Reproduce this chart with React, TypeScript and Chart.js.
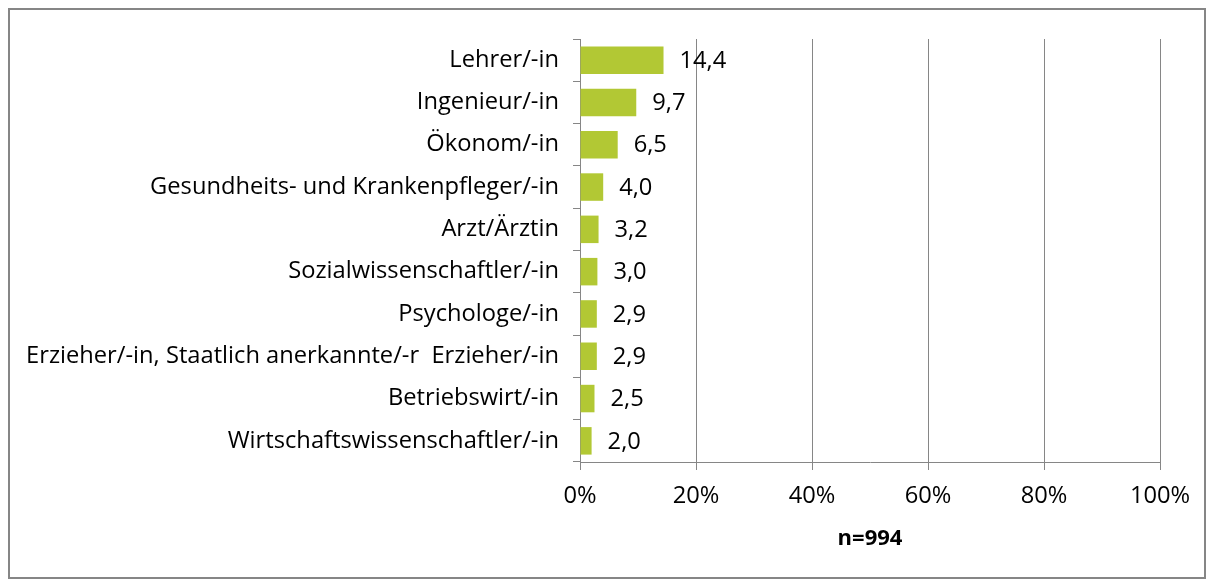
import React, { useEffect, useRef } from "react";
import { Chart, registerables } from "chart.js";

Chart.register(...registerables);

const categories = [
  "Lehrer/-in",
  "Ingenieur/-in",
  "Ökonom/-in",
  "Gesundheits- und Krankenpfleger/-in",
  "Arzt/Ärztin",
  "Sozialwissenschaftler/-in",
  "Psychologe/-in",
  "Erzieher/-in, Staatlich anerkannte/-r  Erzieher/-in",
  "Betriebswirt/-in",
  "Wirtschaftswissenschaftler/-in",
];
const values = [14.4, 9.7, 6.5, 4.0, 3.2, 3.0, 2.9, 2.9, 2.5, 2.0];
const xTicks = [0, 20, 40, 60, 80, 100];
const axisTitle = "n=994";

const FONT = "'Open Sans'";
const FS = 23.7;
const GREY = "#868686";

const labelPlugin = {
  id: "valueLabels",
  afterDatasetsDraw(chart: any) {
    const ctx = chart.ctx;
    const meta = chart.getDatasetMeta(0);
    ctx.save();
    ctx.font = `${FS}px ${FONT}`;
    ctx.fillStyle = "#000";
    ctx.textAlign = "left";
    ctx.textBaseline = "middle";
    meta.data.forEach((bar: any, i: number) => {
      const txt = values[i].toFixed(1).replace(".", ",");
      ctx.fillText(txt, bar.x + 16, bar.y + 1);
    });
    ctx.restore();
  },
};

const borderPlugin = {
  id: "outerBorder",
  afterDraw(chart: any) {
    const ctx = chart.ctx;
    ctx.save();
    ctx.strokeStyle = GREY;
    ctx.lineWidth = 2;
    ctx.strokeRect(1, 1, chart.width - 2, chart.height - 2);
    ctx.restore();
  },
};

export default function App() {
  const ref = useRef<HTMLCanvasElement>(null);
  useEffect(() => {
    if (!ref.current) return;
    const chart = new Chart(ref.current, {
      type: "bar",
      data: {
        labels: categories,
        datasets: [
          {
            data: values,
            backgroundColor: "#b2c834",
            barPercentage: 0.65,
            categoryPercentage: 1,
          },
        ],
      },
      plugins: [labelPlugin, borderPlugin],
      options: {
        indexAxis: "y",
        animation: false,
        responsive: true,
        maintainAspectRatio: false,
        layout: { padding: { top: 31, right: 46, left: 0, bottom: 0 } },
        plugins: { legend: { display: false }, tooltip: { enabled: false } },
        scales: {
          x: {
            min: 0,
            max: 100,
            afterBuildTicks: (axis: any) => {
              axis.ticks = xTicks.map((v) => ({ value: v }));
            },
            afterFit: (axis: any) => {
              axis.height = 117;
            },
            grid: {
              color: GREY,
              lineWidth: 1,
              drawTicks: true,
              tickLength: 8,
              tickColor: GREY,
            },
            border: { color: GREY, width: 1 },
            ticks: {
              color: "#000",
              font: { family: FONT, size: FS },
              padding: 12,
              callback: (v: any) => `${v}%`,
              maxRotation: 0,
            },
            title: {
              display: true,
              text: axisTitle,
              color: "#000",
              font: { family: FONT, size: 22, weight: "bold" },
              padding: { top: 0, bottom: 27 },
            },
          },
          y: {
            afterFit: (axis: any) => {
              axis.width = 572;
            },
            grid: {
              display: true,
              drawOnChartArea: false,
              offset: true,
              tickLength: 7,
              tickColor: GREY,
            },
            border: { color: GREY, width: 1 },
            ticks: {
              color: "#000",
              font: { family: FONT, size: FS },
              padding: 14,
              autoSkip: false,
            },
          },
        },
      },
    });
    return () => chart.destroy();
  }, []);
  return (
    <div style={{ width: 1198, height: 571 }}>
      <canvas ref={ref} />
    </div>
  );
}
